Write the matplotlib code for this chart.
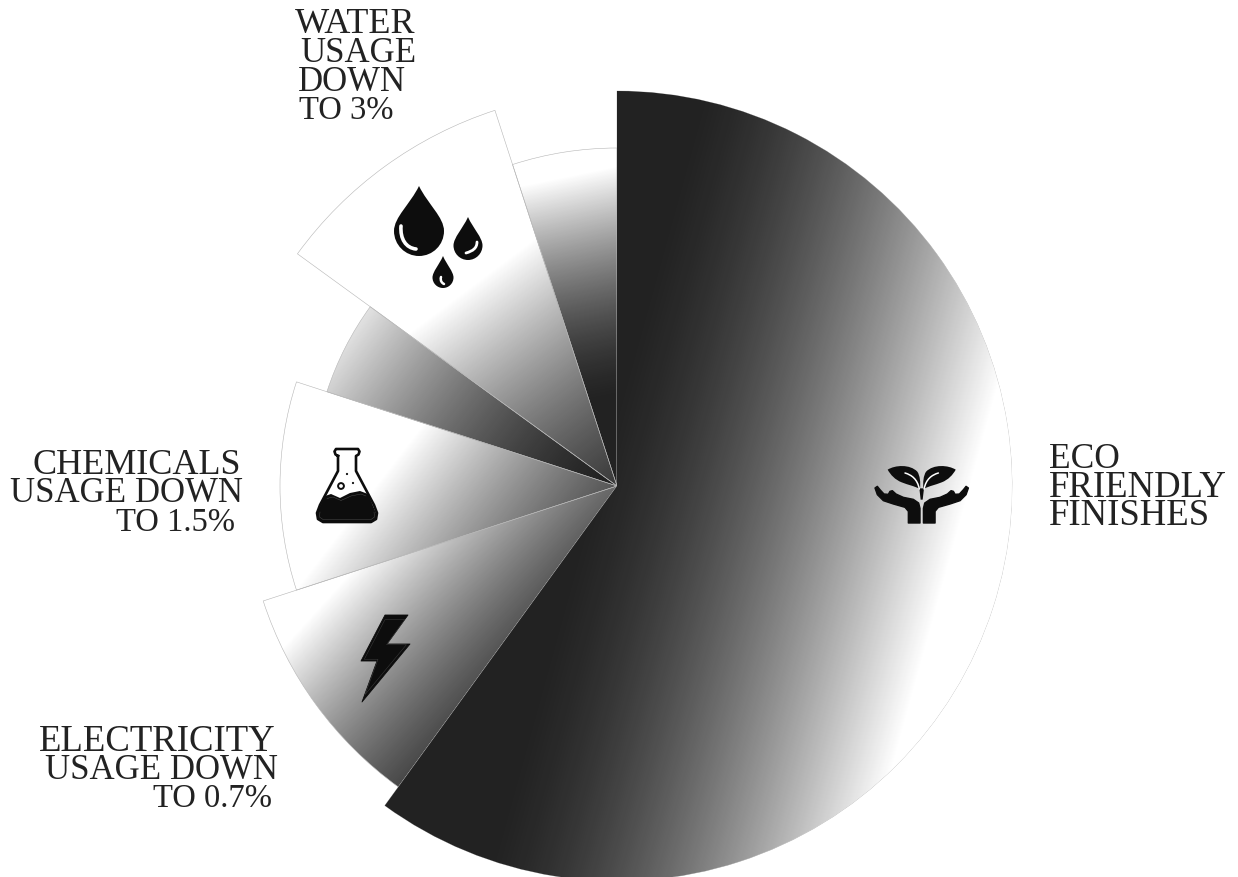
import matplotlib
matplotlib.use('Agg')
import matplotlib.pyplot as plt
from matplotlib.colors import LinearSegmentedColormap
from matplotlib.patches import Wedge, PathPatch, Circle
from matplotlib.path import Path
import numpy as np

W, H = 1238, 878
center = (617, 487)

# slices, clockwise from 12 o'clock
names = ['Eco friendly finishes', 'Electricity', 'Chemicals', 'Gap 1', 'Water', 'Gap 2']
shares = [60, 10, 10, 5, 10, 5]
radii = [395, 372, 337, 305, 395, 338]

# gradient of each slice, from its dark end to its white end (image pixels)
grad_dark = [(581, 487), (493, 818), (636, 672), (617, 487), (728, 507), (664, 395)]
grad_white = [(943, 587), (293, 637), (383, 477), (351, 287), (530, 243), (617, 167)]
GAMMA = 1.6

labels = ['WATER', 'USAGE', 'DOWN', 'TO 3%',
          'CHEMICALS', 'USAGE DOWN', 'TO 1.5%',
          'ELECTRICITY', 'USAGE DOWN', 'TO 0.7%',
          'ECO', 'FRIENDLY', 'FINISHES']
label_x = [295, 300, 298, 299, 241, 243, 235, 276, 278, 272, 1049, 1049, 1049]
label_y = [33, 62, 91, 119, 474, 502, 531, 751, 779, 807, 468, 497, 525]
label_ha = ['left'] * 4 + ['right'] * 6 + ['left'] * 3
label_size = [26, 25, 25, 23.5, 26, 25, 23.5, 26.5, 25, 23.5, 25.5, 26.5, 26.5]

DARK = '#222222'
ICON = '#0d0d0d'

fig = plt.figure(figsize=(W / 100, H / 100), dpi=100)
ax = fig.add_axes([0, 0, 1, 1])
ax.set_xlim(0, W)
ax.set_ylim(H, 0)  # y runs down, so wedge angles run clockwise
ax.axis('off')

cmap = LinearSegmentedColormap.from_list('bw', [DARK, '#ffffff'])
xx, yy = np.meshgrid(np.arange(W) + 0.5, np.arange(H) + 0.5)

cum = 0
for i, (share, r, d, w) in enumerate(zip(shares, radii, grad_dark, grad_white)):
    t1 = -90 + cum * 3.6
    t2 = -90 + (cum + share) * 3.6
    cum += share
    wedge = Wedge(center, r, t1, t2, facecolor='none', edgecolor='#b5b5b5', linewidth=0.4, zorder=3)
    ax.add_patch(wedge)
    dx, dy = w[0] - d[0], w[1] - d[1]
    t = ((xx - d[0]) * dx + (yy - d[1]) * dy) / (dx * dx + dy * dy)
    t = np.clip(t, 0, 1) ** GAMMA
    # the big slice sits on top so its straight edges stay clean
    im = ax.imshow(t, extent=(0, W, H, 0), cmap=cmap, vmin=0, vmax=1, aspect='auto',
                   interpolation='bilinear', zorder=4 if i == 0 else 2)
    im.set_clip_path(wedge)
ax.set_xlim(0, W)
ax.set_ylim(H, 0)


def drop(tip_x, tip_y, half_w, bottom):
    # teardrop outline
    k = half_w * 0.5523
    cy = bottom - half_w
    verts = [(tip_x, tip_y),
             (tip_x + half_w * 0.35, tip_y + (cy - tip_y) * 0.4), (tip_x + half_w, cy - half_w * 0.55), (tip_x + half_w, cy),
             (tip_x + half_w, cy + k), (tip_x + k, bottom), (tip_x, bottom),
             (tip_x - k, bottom), (tip_x - half_w, cy + k), (tip_x - half_w, cy),
             (tip_x - half_w, cy - half_w * 0.55), (tip_x - half_w * 0.35, tip_y + (cy - tip_y) * 0.4), (tip_x, tip_y)]
    codes = [Path.MOVETO] + [Path.CURVE4] * 12
    ax.add_patch(PathPatch(Path(verts, codes), facecolor=ICON, edgecolor='none', zorder=5))


def curve(verts, color='white', lw=2.2, z=6):
    codes = [Path.MOVETO] + [Path.CURVE4] * (len(verts) - 1)
    ax.add_patch(PathPatch(Path(verts, codes), facecolor='none', edgecolor=color, linewidth=lw,
                           capstyle='round', zorder=z))


def poly(verts, color=ICON, zorder=5, lw=0):
    ax.add_patch(plt.Polygon(verts, closed=True, facecolor=color, edgecolor=color, linewidth=lw,
                             joinstyle='round', zorder=zorder))


# water drops
drop(419, 187, 25, 257)
drop(468, 218, 14.5, 261)
drop(443, 257, 10.5, 289)
curve([(401, 227), (400, 240), (406, 249), (416, 250)], lw=2.6)
curve([(477, 243), (477, 249), (473, 252), (466, 254)], lw=2)
curve([(441, 278), (440, 282), (442, 284), (444, 285)], lw=1.8)

# flask
flask_out = [(338, 457), (335.5, 455.5), (334.5, 452.5), (336, 450), (358, 450), (359.5, 452.5), (358.5, 455.5),
             (356, 457), (356, 472), (374, 506), (377, 514), (376, 520), (371, 523), (323, 523), (318, 520),
             (317, 514), (320, 506), (338, 472)]
poly(flask_out, color='white', zorder=5)
ax.plot([p[0] for p in flask_out + flask_out[:1]], [p[1] for p in flask_out + flask_out[:1]], color=ICON,
        lw=1.9, zorder=5.5, solid_joinstyle='round')
liquid = Path([(325, 497), (331, 495), (340, 499), (350, 494), (360, 492), (368, 495),
               (376, 514), (376, 520), (371, 523), (323, 523), (318, 520), (317, 514), (325, 497)])
ax.add_patch(PathPatch(liquid, facecolor=ICON, edgecolor='none', zorder=5.6))
ax.plot([327, 333, 341, 351, 361, 366], [499.5, 498, 501.5, 497, 495, 497], color='#555555', lw=0.3, zorder=5.7)
ax.add_patch(Circle((341, 487), 2.9, facecolor='none', edgecolor=ICON, linewidth=1.4, zorder=6))
ax.add_patch(Circle((347, 475), 1.1, facecolor=ICON, edgecolor='none', zorder=6))
ax.add_patch(Circle((353, 484), 1.1, facecolor=ICON, edgecolor='none', zorder=6))
ax.plot([320, 319.5, 323, 371, 374.5, 374], [513, 518, 520.5, 520.5, 518, 513], color='#555555', lw=0.3, zorder=5.7)

# lightning bolt with its thin inner line
bolt = np.array([(385, 616), (408, 616), (387, 645), (410, 645), (362, 703), (377, 662), (361, 662)])
poly(bolt, lw=0.6)
mid = bolt.mean(axis=0)
ax.add_patch(plt.Polygon(mid + (bolt - mid) * 0.86, closed=True, facecolor='none', edgecolor='#444444',
                         linewidth=0.3, zorder=6))


# plant in hands, points taken on a 3x grid from (860, 450)
def z2p(pts):
    return [(860 + x / 3, 450 + y / 3) for x, y in pts]


def mirror(pts):
    return [(2 * 921.7 - x, y) for x, y in pts]


leaf = z2p([(83, 62), (105, 48), (150, 45), (172, 68), (180, 80), (182, 100), (180, 120),
            (160, 110), (145, 108), (125, 100), (105, 92), (92, 78), (83, 62)])
leaf_codes = [Path.MOVETO] + [Path.CURVE4] * 12
vein = z2p([(135, 72), (155, 78), (172, 90), (178, 120)])
hand = z2p([(45, 117), (52, 112), (60, 122), (72, 135), (85, 136), (90, 127), (97, 125), (108, 135), (130, 145),
            (160, 151), (176, 162), (180, 178), (180, 222), (145, 222), (145, 187), (135, 175), (100, 165),
            (70, 155), (52, 137)])
for flip in (lambda p: p, mirror):
    ax.add_patch(PathPatch(Path(flip(leaf), leaf_codes), facecolor=ICON, edgecolor='none', zorder=5))
    curve(flip(vein), lw=1.1)
    poly(flip(hand), lw=1.0)
poly(z2p([(178, 118), (192, 118), (188, 152), (182, 152)]), zorder=5.5)

for txt, x, y, ha, size in zip(labels, label_x, label_y, label_ha, label_size):
    ax.text(x, y, txt, ha=ha, va='baseline', family='Liberation Serif', fontsize=size, color=DARK, zorder=7)

fig.savefig('out.png', dpi=100)
plt.close(fig)
